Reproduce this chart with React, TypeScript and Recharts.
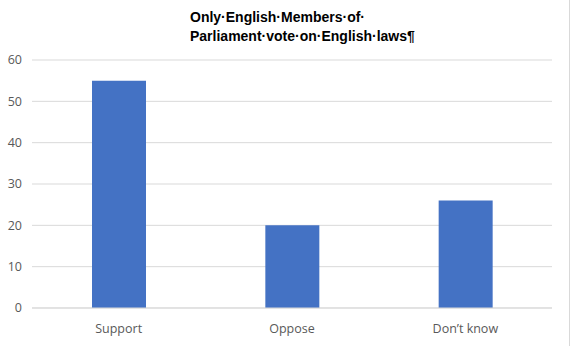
import { BarChart, Bar, XAxis, YAxis, CartesianGrid } from "recharts";

const categories = ["Support", "Oppose", "Don’t know"];
const values = [55, 20, 26];
const yTicks = [0, 10, 20, 30, 40, 50, 60];
const titleLines = ["Only·English·Members·of·", "Parliament·vote·on·English·laws¶"];

const data = categories.map((name, i) => ({ name, value: values[i] }));

const tickStyle = { fill: "#595959", fontSize: 12.5, fontFamily: "'Open Sans', 'Noto Sans', sans-serif" };

export default function App() {
  return (
    <div style={{ position: "relative", width: 571, height: 346, background: "#fff" }}>
      <style>{"body{margin:0}"}</style>
      <div
        style={{
          position: "absolute",
          left: 190,
          top: 8,
          fontFamily: "'Liberation Sans', Arial, sans-serif",
          fontWeight: "bold",
          fontSize: 14,
          lineHeight: "19px",
          color: "#000",
          whiteSpace: "nowrap",
        }}
      >
        {titleLines.map((t) => (
          <div key={t}>{t}</div>
        ))}
      </div>
      <div style={{ position: "absolute", right: 1, top: 0, width: 1, height: 346, background: "#d9d9d9" }} />
      <BarChart
        width={571}
        height={346}
        data={data}
        margin={{ top: 60, right: 19, bottom: 0, left: 0 }}
        barCategoryGap={0}
      >
        <CartesianGrid vertical={false} stroke="#d9d9d9" />
        <XAxis
          dataKey="name"
          height={38}
          axisLine={{ stroke: "#d9d9d9" }}
          tickLine={false}
          tick={tickStyle}
          tickMargin={10}
        />
        <YAxis
          width={32}
          domain={[0, 60]}
          ticks={yTicks}
          axisLine={false}
          tickLine={false}
          tick={tickStyle}
          tickMargin={4}
        />
        <Bar dataKey="value" fill="#4472C4" barSize={54} isAnimationActive={false} />
      </BarChart>
    </div>
  );
}
